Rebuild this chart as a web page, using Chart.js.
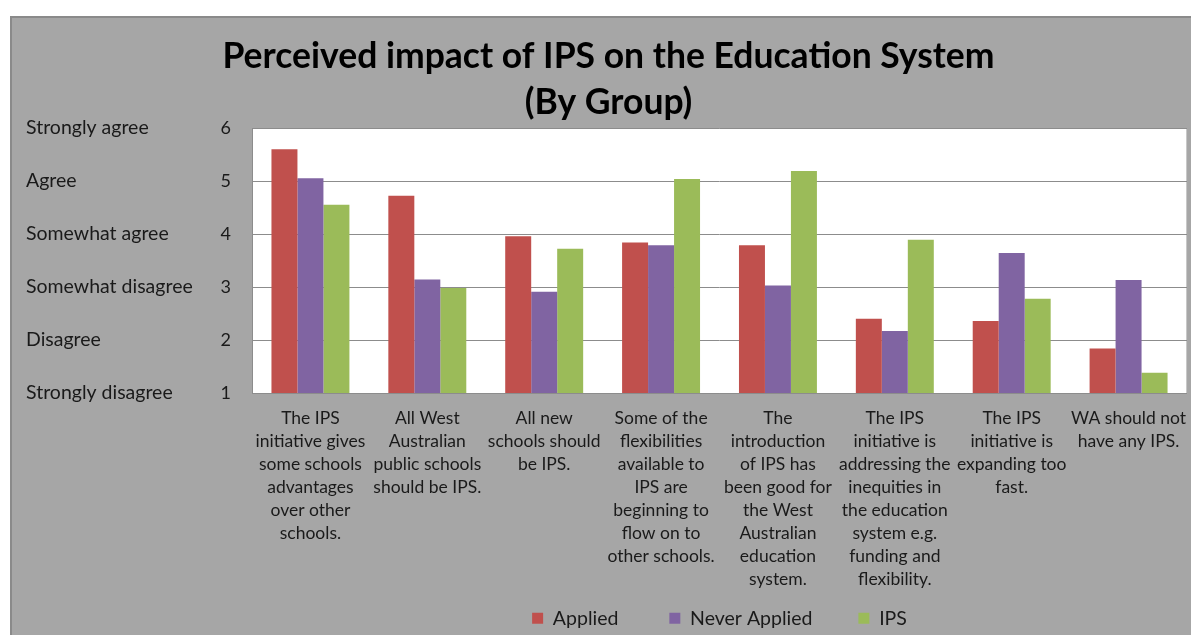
<!DOCTYPE html>
<html>
<head>
<meta charset="utf-8">
<script src="https://cdn.jsdelivr.net/npm/chart.js@4.4.0/dist/chart.umd.min.js"></script>
<style>
  html, body { margin: 0; padding: 0; background: #ffffff; overflow: hidden; width: 1191px; height: 635px; }
  #box { position: absolute; left: 10px; top: 16px; width: 1200px; height: 660px; background: #a6a6a6;
         border-left: 2px solid #8a8a8a; border-top: 2px solid #8a8a8a; }
  #wrap { position: absolute; left: 0; top: 0; width: 1188px; height: 620px; }
</style>
</head>
<body>
<div id="box"><div id="wrap"><canvas id="c" width="1188" height="620"></canvas></div></div>
<script>
const categories = [
  ["The IPS", "initiative gives", "some schools", "advantages", "over other", "schools."],
  ["All West", "Australian", "public schools", "should be IPS."],
  ["All new", "schools should", "be IPS."],
  ["Some of the", "flexibilities", "available to", "IPS are", "beginning to", "flow on to", "other schools."],
  ["The", "introduction", "of IPS has", "been good for", "the West", "Australian", "education", "system."],
  ["The IPS", "initiative is", "addressing the", "inequities in", "the education", "system e.g.", "funding and", "flexibility."],
  ["The IPS", "initiative is", "expanding too", "fast."],
  ["WA should not", "have any IPS."]
];
const applied      = [5.60, 4.72, 3.96, 3.84, 3.79, 2.40, 2.36, 1.84];
const neverApplied = [5.05, 3.14, 2.91, 3.79, 3.03, 2.17, 3.64, 3.13];
const ips          = [4.55, 2.98, 3.72, 5.04, 5.19, 3.89, 2.78, 1.38];
const scaleLabels  = ["Strongly disagree", "Disagree", "Somewhat disagree", "Somewhat agree", "Agree", "Strongly agree"];
const seriesNames  = ["Applied", "Never Applied", "IPS"];

const FONT = "Lato, 'Open Sans', sans-serif";

const plotBg = {
  id: 'plotBg',
  beforeDraw(chart) {
    const {ctx, chartArea: a} = chart;
    ctx.save();
    ctx.fillStyle = '#ffffff';
    ctx.fillRect(a.left, a.top, a.right - a.left, a.bottom - a.top);
    ctx.strokeStyle = '#c8c8c8';
    ctx.lineWidth = 1;
    ctx.strokeRect(a.left + 0.5, a.top + 0.5, a.right - a.left - 1, a.bottom - a.top);
    ctx.restore();
  },
  afterDatasetsDraw(chart) {
    const {ctx, chartArea: a} = chart;
    ctx.save();
    ctx.strokeStyle = '#8c8c8c';
    ctx.lineWidth = 1;
    ctx.beginPath();
    ctx.moveTo(a.left + 0.5, a.top);
    ctx.lineTo(a.left + 0.5, a.bottom + 0.5);
    ctx.lineTo(a.right, a.bottom + 0.5);
    ctx.stroke();
    ctx.restore();
  }
};

const GAPS = ['       ', '      ', ''];

new Chart(document.getElementById('c'), {
  type: 'bar',
  data: {
    labels: categories,
    datasets: [
      { label: seriesNames[0], data: applied, backgroundColor: '#c0504d' },
      { label: seriesNames[1], data: neverApplied, backgroundColor: '#8064a2' },
      { label: seriesNames[2], data: ips, backgroundColor: '#9bbb59' }
    ]
  },
  options: {
    responsive: false,
    animation: false,
    layout: { padding: { left: 14, right: 9, top: 0, bottom: 0 } },
    datasets: { bar: { categoryPercentage: 0.667, barPercentage: 1.0, borderWidth: 0 } },
    plugins: {
      title: {
        display: true,
        text: ["Perceived impact of IPS on the Education System", "(By Group)"],
        color: '#000000',
        font: { family: FONT, size: 35.5, weight: 'bold', lineHeight: 1.296 },
        padding: { top: 16, bottom: 2 }
      },
      legend: {
        display: true,
        position: 'bottom',
        fullSize: false,
        labels: {
          boxWidth: 11, boxHeight: 11, padding: 16,
          color: '#1a1a1a',
          font: { family: FONT, size: 19.5 },
          generateLabels(chart) {
            const items = Chart.defaults.plugins.legend.labels.generateLabels(chart);
            items.forEach((it, i) => { it.text = it.text + (GAPS[i] || ''); it.lineWidth = 0; });
            return items;
          }
        }
      },
      tooltip: { enabled: false }
    },
    scales: {
      x: {
        grid: { display: false, drawTicks: false },
        border: { display: false },
        ticks: {
          autoSkip: false, maxRotation: 0, minRotation: 0, padding: 13.4,
          color: '#1a1a1a',
          font: { family: FONT, size: 17.5, lineHeight: 1.32 }
        },
        afterFit(s) { s.height = 199.5; }
      },
      y: {
        position: 'left',
        weight: 0,
        min: 1, max: 6,
        grid: { color: '#8c8c8c', lineWidth: 1, drawTicks: false },
        border: { display: false },
        ticks: {
          stepSize: 1, padding: 21, color: '#1a1a1a',
          font: { family: FONT, size: 18 }
        },
        afterFit(s) { s.width = 32; }
      },
      yText: {
        position: 'left',
        weight: 10,
        min: 1, max: 6,
        grid: { display: false, drawTicks: false },
        border: { display: false },
        ticks: {
          stepSize: 1, crossAlign: 'far', color: '#1a1a1a',
          font: { family: FONT, size: 19.5 },
          callback: (v) => scaleLabels[v - 1]
        },
        afterFit(s) { s.width = 194; }
      }
    }
  },
  plugins: [plotBg]
});
</script>
</body>
</html>
